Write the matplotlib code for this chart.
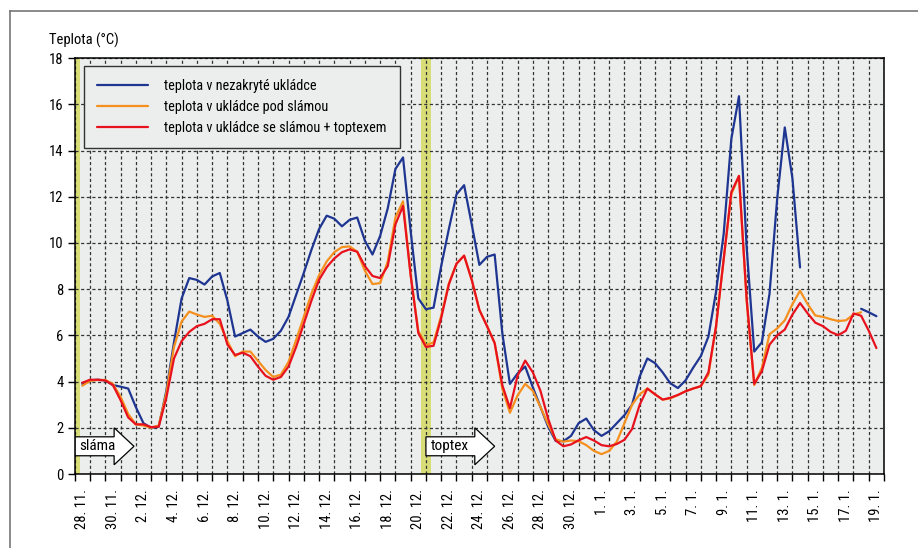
import numpy as np
import matplotlib
matplotlib.use('Agg')
import matplotlib.pyplot as plt
from matplotlib import font_manager
from matplotlib.patches import FancyArrow
from matplotlib.lines import Line2D

# pick a narrow sans if one is installed
names = set(f.name for f in font_manager.fontManager.ttflist)
family = 'DejaVu Sans'
for cand in ['Liberation Sans Narrow', 'DejaVu Sans Condensed', 'Roboto Condensed', 'Liberation Sans']:
    if cand in names:
        family = cand
        break
plt.rcParams['font.family'] = [family, 'DejaVu Sans']

# readings every half day, 28. 11. (day 0) .. 19. 1. (day 52)
step = 0.5
nan = np.nan
blue = [3.9, 4.05, 4.08, 4.05, 3.85, 3.78, 3.7, 2.9, 2.2, 2.0,
        2.05, 3.6, 5.7, 7.6, 8.48, 8.4, 8.2, 8.55, 8.7, 7.5,
        5.95, 6.1, 6.25, 5.95, 5.72, 5.85, 6.2, 6.8, 7.75, 8.7,
        9.7, 10.6, 11.18, 11.05, 10.72, 11.0, 11.1, 10.1, 9.5, 10.3,
        11.5, 13.2, 13.7, 10.5, 7.6, 7.13, 7.2, 9.0, 10.6, 12.1,
        12.5, 10.8, 9.05, 9.4, 9.5, 6.1, 3.9, 4.35, 4.65, 3.75,
        2.9, 2.05, 1.43, 1.42, 1.65, 2.2, 2.4, 1.9, 1.65, 1.85,
        2.2, 2.55, 3.0, 4.22, 5.0, 4.8, 4.4, 3.93, 3.72, 4.05,
        4.6, 5.1, 5.95, 7.9, 10.4, 14.5, 16.35, 9.84, 5.3, 5.7,
        7.8, 11.9, 15.0, 12.8, 8.94, nan, nan, nan, nan, nan,
        nan, nan, 7.15, 7.0, 6.83]
orange = [3.82, 4.03, 4.07, 4.07, 3.9, 3.35, 2.6, 2.15, 2.1, 2.0,
          2.1, 3.5, 5.5, 6.6, 7.03, 6.9, 6.8, 6.85, 6.5, 5.75,
          5.1, 5.3, 5.3, 4.9, 4.5, 4.2, 4.3, 4.85, 5.8, 6.8,
          7.8, 8.6, 9.2, 9.6, 9.82, 9.85, 9.62, 8.8, 8.22, 8.26,
          9.2, 11.1, 11.8, 8.6, 6.2, 5.57, 5.7, 6.85, 8.25, 9.1,
          9.45, 8.4, 7.1, 6.4, 5.67, 3.7, 2.65, 3.4, 3.9, 3.6,
          2.9, 2.15, 1.5, 1.4, 1.45, 1.42, 1.25, 1.0, 0.86, 1.0,
          1.4, 2.2, 3.0, 3.45, 3.7, 3.45, 3.22, 3.27, 3.42, 3.58,
          3.7, 3.8, 4.3, 6.4, 9.3, 12.1, 12.9, 7.5, 3.85, 4.6,
          6.05, 6.3, 6.65, 7.35, 7.93, 7.35, 6.86, 6.8, 6.7, 6.62,
          6.65, 6.9, 7.0, nan, nan]
red = [3.95, 4.08, 4.08, 4.05, 3.85, 3.2, 2.45, 2.15, 2.15, 2.03,
       2.05, 3.3, 5.0, 5.75, 6.15, 6.4, 6.5, 6.7, 6.7, 5.6,
       5.15, 5.25, 5.1, 4.65, 4.25, 4.08, 4.2, 4.65, 5.5, 6.5,
       7.5, 8.4, 8.95, 9.33, 9.6, 9.72, 9.62, 9.0, 8.57, 8.48,
       9.0, 10.8, 11.6, 8.6, 6.1, 5.5, 5.55, 6.75, 8.2, 9.1,
       9.45, 8.4, 7.1, 6.4, 5.67, 3.85, 2.85, 4.25, 4.91, 4.4,
       3.6, 2.4, 1.45, 1.2, 1.28, 1.46, 1.6, 1.45, 1.25, 1.2,
       1.3, 1.48, 1.95, 3.0, 3.7, 3.45, 3.22, 3.3, 3.42, 3.58,
       3.7, 3.8, 4.4, 6.4, 9.3, 12.2, 12.9, 7.6, 3.9, 4.45,
       5.6, 6.0, 6.25, 6.9, 7.4, 6.95, 6.55, 6.4, 6.15, 6.01,
       6.2, 6.95, 6.85, 6.2, 5.45]

day_labels = ['28. 11.', '30. 11.', '2. 12.', '4. 12.', '6. 12.', '8. 12.',
              '10. 12.', '12. 12.', '14. 12.', '16. 12.', '18. 12.', '20. 12.',
              '22. 12.', '24. 12.', '26. 12.', '28. 12.', '30. 12.', '1. 1.',
              '3. 1.', '5. 1.', '7. 1.', '9. 1.', '11. 1.', '13. 1.',
              '15. 1.', '17. 1.', '19. 1.']
series_names = ['teplota v nezakryté ukládce',
                'teplota v ukládce pod slámou',
                'teplota v ukládce se slámou + toptexem']
series_colors = ['#1e3591', '#f5901e', '#e8121e']
# days when straw and toptex were laid
events = [(-0.5, 'sláma', 3.88), (22.5, 'toptex', 4.5)]

t = np.arange(len(blue)) * step
n_days = len(day_labels) * 2 - 1

fig = plt.figure(figsize=(9.18, 5.48), dpi=100)
ax = fig.add_axes([0.0814, 0.135, 0.8816, 0.759])
ax.set_facecolor('#eceeed')

for x0, _, _ in events:
    ax.axvspan(x0 - 0.33, x0 + 0.33, color='#d8dd78', zorder=1, lw=0)

ax.set_xlim(-0.5, n_days - 0.5)
ax.set_ylim(0, 18)
ax.set_yticks(np.arange(0, 19, 2))
ax.set_xticks(np.arange(0, n_days, 2))
ax.set_xticklabels(day_labels, rotation=90, fontsize=10.5)
ax.set_xticks(np.arange(-0.5, n_days, 1), minor=True)
ax.tick_params(axis='x', which='major', length=0, pad=11)
ax.tick_params(axis='x', which='minor', length=5, width=1, direction='out')
ax.tick_params(axis='y', length=5, width=1, labelsize=10.5, pad=3)
ax.grid(True, axis='y', which='major', color='#333333', ls=(0, (2.5, 2)), lw=0.9, zorder=2)
ax.grid(True, axis='x', which='minor', color='#333333', ls=(0, (2.5, 2)), lw=0.9, zorder=2)
ax.set_axisbelow(False)
for sp in ax.spines.values():
    sp.set_linewidth(1.1)
    sp.set_zorder(6)

for x0, label, length in events:
    arr = FancyArrow(x0, 1.2, length, 0, width=0.82, head_width=1.6,
                     head_length=1.3, length_includes_head=True,
                     facecolor='white', edgecolor='black', lw=0.9, zorder=3)
    ax.add_patch(arr)
    ax.text(x0 + 0.3, 1.2, label, fontsize=11, va='center', ha='left', zorder=4)

for vals, name, col in zip([blue, orange, red], series_names, series_colors):
    ax.plot(t, vals, color=col, lw=1.6, label=name, zorder=5,
            solid_joinstyle='round', solid_capstyle='round')

leg = ax.legend(loc='upper left', bbox_to_anchor=(0.0115, 0.981), borderaxespad=0,
                fontsize=10.3, handlelength=3.6, handletextpad=1.1,
                borderpad=0.9, labelspacing=0.5, fancybox=False, framealpha=1)
leg.get_frame().set_facecolor('#eceeed')
leg.get_frame().set_edgecolor('#333333')
leg.get_frame().set_linewidth(1.0)
leg.set_zorder(7)

fig.text(0.053, 0.927, 'Teplota (°C)', fontsize=10.5, va='center', ha='left')

# outer frame
fx, fy = 10 / 918, 1 - 10.5 / 548
fig.add_artist(Line2D([fx, 1], [fy, fy], color='#777777', lw=1.2))
fig.add_artist(Line2D([fx, fx], [0, fy], color='#777777', lw=1.2))

fig.savefig('out.png', dpi=100)
